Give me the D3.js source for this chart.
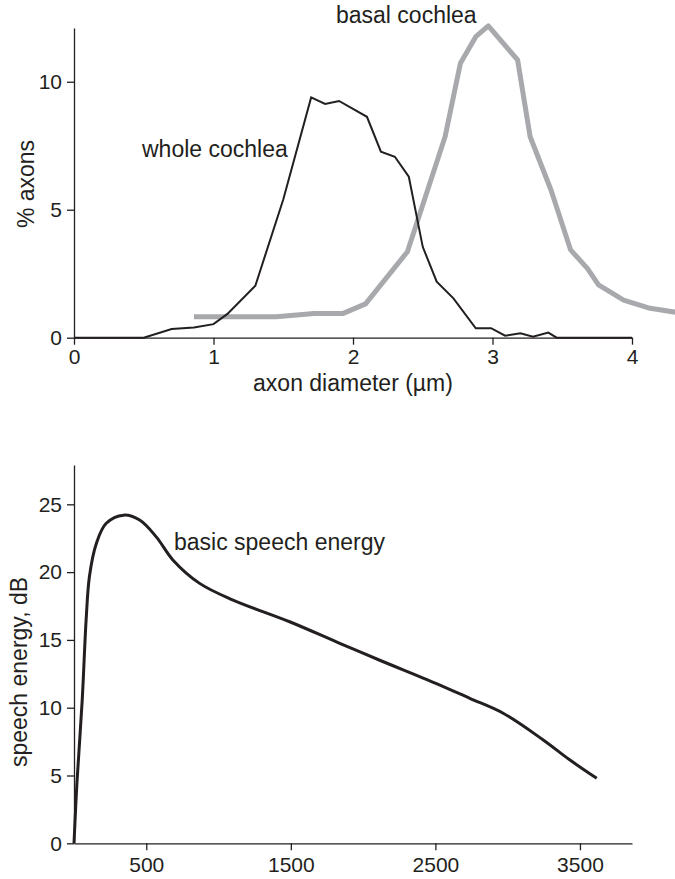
<!DOCTYPE html>
<html>
<head>
<meta charset="utf-8">
<script src="https://cdn.jsdelivr.net/npm/d3@7"></script>
<style>
  body { margin: 0; background: #fff; }
  svg { display: block; font-family: 'Liberation Sans', Arial, sans-serif; }
  .axis path, .axis line { stroke: #231f20; stroke-width: 1.3; }
  .axis text { font-size: 21px; fill: #231f20; font-family: 'Liberation Sans', Arial, sans-serif; }
  .label { font-size: 23px; fill: #231f20; }
</style>
</head>
<body>
<svg width="675" height="879"></svg>
<script>
// top panel: axon diameter distributions
const wholeX = [0, 0.5, 0.7, 0.86, 1.0, 1.1, 1.3, 1.5, 1.7, 1.8, 1.9, 2.1, 2.2, 2.3, 2.4, 2.5, 2.6, 2.72, 2.88, 2.99, 3.09, 3.2, 3.29, 3.4, 3.46, 4.0];
const wholeY = [0, 0, 0.34, 0.4, 0.53, 0.93, 2.03, 5.4, 9.39, 9.13, 9.25, 8.63, 7.27, 7.07, 6.29, 3.55, 2.19, 1.54, 0.37, 0.37, 0.08, 0.17, 0.04, 0.2, 0, 0];

const basalX = [0.86, 1.45, 1.72, 1.93, 2.09, 2.39, 2.66, 2.77, 2.88, 2.97, 3.18, 3.27, 3.42, 3.56, 3.68, 3.76, 3.94, 4.13, 4.32];
const basalY = [0.82, 0.82, 0.95, 0.95, 1.32, 3.36, 7.85, 10.72, 11.76, 12.18, 10.85, 7.85, 5.76, 3.43, 2.71, 2.06, 1.47, 1.15, 0.99];

const topXTicks = [0, 1, 2, 3, 4];
const topYTicks = [0, 5, 10];

// bottom panel: speech energy
const speechX = [0, 20, 57, 84, 107, 154, 223, 343, 454, 569, 684, 869, 1100, 1492, 1838, 2115, 2503, 2738, 2969, 3246, 3431, 3616];
const speechY = [0, 4.4, 10.6, 16.5, 19.7, 22.1, 23.6, 24.2, 23.84, 22.6, 20.9, 19.17, 17.94, 16.34, 14.75, 13.5, 11.8, 10.69, 9.59, 7.62, 6.14, 4.79];

const botXTicks = [500, 1500, 2500, 3500];
const botYTicks = [0, 5, 10, 15, 20, 25];

const svg = d3.select('svg');
const zip = (xs, ys) => xs.map((x, i) => [x, ys[i]]);

// ---- top chart
const x1 = d3.scaleLinear().domain([0, 4]).range([74, 632]);
const y1 = d3.scaleLinear().domain([0, 12.1]).range([337.7, 28]);

svg.append('g')
  .attr('class', 'axis')
  .attr('transform', 'translate(0,337.7)')
  .call(d3.axisBottom(x1).tickValues(topXTicks).tickSize(7).tickSizeOuter(0).tickPadding(4).tickFormat(d3.format('d')));

svg.append('g')
  .attr('class', 'axis')
  .attr('transform', 'translate(74,0)')
  .call(d3.axisLeft(y1).tickValues(topYTicks).tickSize(7).tickSizeOuter(0).tickPadding(5));

const line1 = d3.line()
  .x(d => x1(d[0]))
  .y(d => y1(d[1]));

svg.append('path')
  .attr('d', line1(zip(basalX, basalY)))
  .attr('fill', 'none')
  .attr('stroke', '#a7a9ac')
  .attr('stroke-width', 5)
  .attr('stroke-linejoin', 'round');

svg.append('path')
  .attr('d', line1(zip(wholeX, wholeY)))
  .attr('fill', 'none')
  .attr('stroke', '#231f20')
  .attr('stroke-width', 2);

svg.append('text').attr('class', 'label').attr('x', 142).attr('y', 157).text('whole cochlea');
svg.append('text').attr('class', 'label').attr('x', 336).attr('y', 23).text('basal cochlea');
svg.append('text').attr('class', 'label')
  .attr('text-anchor', 'middle').attr('x', 353).attr('y', 391)
  .text('axon diameter (µm)');
svg.append('text').attr('class', 'label')
  .attr('text-anchor', 'middle')
  .attr('transform', 'translate(34,184) rotate(-90)')
  .text('% axons');

// ---- bottom chart
const x2 = d3.scaleLinear().domain([0, 3860]).range([74, 632]);
const y2 = d3.scaleLinear().domain([0, 27.9]).range([843.3, 465]);

svg.append('g')
  .attr('class', 'axis')
  .attr('transform', 'translate(0,843.3)')
  .call(d3.axisBottom(x2).tickValues(botXTicks).tickSize(7).tickSizeOuter(0).tickPadding(7).tickFormat(d3.format('d')));

svg.append('g')
  .attr('class', 'axis')
  .attr('transform', 'translate(74,0)')
  .call(d3.axisLeft(y2).tickValues(botYTicks).tickSize(7).tickSizeOuter(0).tickPadding(5));

const line2 = d3.line()
  .curve(d3.curveCatmullRom.alpha(0.5))
  .x(d => x2(d[0]))
  .y(d => y2(d[1]));

svg.append('path')
  .attr('d', line2(zip(speechX, speechY)))
  .attr('fill', 'none')
  .attr('stroke', '#231f20')
  .attr('stroke-width', 3);

svg.append('text').attr('class', 'label').attr('x', 174).attr('y', 550).text('basic speech energy');
svg.append('text').attr('class', 'label')
  .attr('text-anchor', 'middle')
  .attr('transform', 'translate(27,672) rotate(-90)')
  .text('speech energy, dB');
</script>
</body>
</html>
